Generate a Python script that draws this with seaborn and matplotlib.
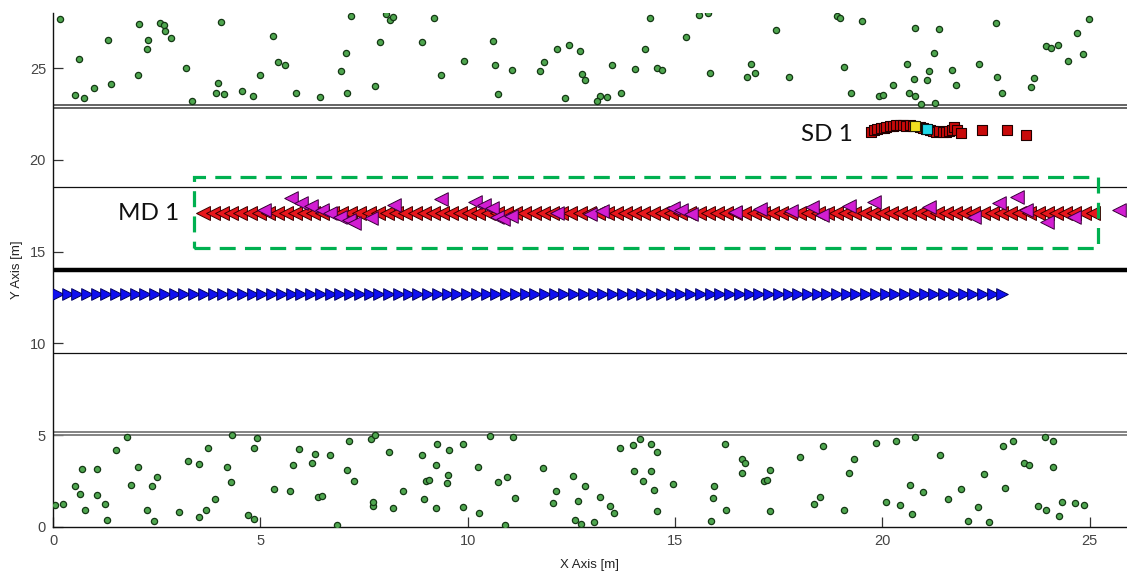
import matplotlib
matplotlib.use("Agg")
import matplotlib.pyplot as plt
from matplotlib.patches import Rectangle
import seaborn as sns

sns.set_theme(style="white")
plt.rcParams["font.family"] = ["Liberation Sans", "DejaVu Sans"]

# ---- roadside objects (trees / posts) above the road ----
top_x = [0.17, 0.63, 0.53, 0.75, 0.99, 1.32, 1.40, 2.08, 2.05, 2.30, 2.26, 2.59, 2.67, 2.70,
         2.84, 3.20, 3.36, 4.05, 3.98, 3.92, 4.12, 4.56, 4.83, 5.00, 5.30, 5.42, 5.59, 5.87,
         6.45, 6.94, 7.06, 7.10, 7.19, 7.76, 7.88, 8.03, 8.12, 8.20,
         9.19, 8.91, 9.35, 9.92, 10.61, 10.66, 10.73, 11.08, 11.74, 11.84, 12.16, 12.45,
         12.72, 12.35, 12.77, 12.82, 13.19, 13.13, 13.36, 13.70, 13.49, 14.03, 14.27, 14.40,
         14.57, 14.69, 15.27, 15.59, 15.79, 15.84, 16.75, 16.83, 16.93,
         17.44, 17.74, 18.91, 18.99, 19.07, 19.24, 19.51, 19.93, 20.02, 20.27, 20.59, 20.64,
         20.76, 20.79, 20.80, 20.93, 21.08, 21.13, 21.25, 21.27, 21.37, 21.69, 21.77, 22.33,
         22.75, 22.77, 22.90, 23.59, 23.66, 23.95, 24.08, 24.25, 24.49, 24.70, 24.84, 24.99]
top_y = [27.65, 25.49, 23.55, 23.38, 23.93, 26.54, 24.11, 27.38, 24.60, 26.54, 26.03, 27.45,
         27.32, 27.03, 26.65, 24.98, 23.20, 27.49, 24.16, 23.64, 23.60, 23.77, 23.49, 24.60,
         26.76, 25.33, 25.15, 23.66, 23.44, 24.82, 25.82, 23.66, 27.81, 24.04, 26.43, 27.94,
         27.60, 27.76,
         27.70, 26.43, 24.60, 25.36, 26.49, 25.15, 23.60, 24.87, 24.82, 25.33, 26.03, 26.27,
         25.93, 23.38, 24.65, 24.33, 23.49, 23.20, 23.44, 23.66, 25.15, 24.93, 26.03, 27.70,
         24.98, 24.87, 26.71, 27.87, 27.98, 24.71, 24.49, 25.20, 24.71,
         27.09, 24.49, 27.81, 27.70, 25.04, 23.66, 27.54, 23.49, 23.55, 24.09, 25.20, 23.66,
         24.38, 23.49, 27.20, 23.04, 24.33, 24.82, 25.82, 23.09, 27.14, 24.87, 24.09, 25.20,
         27.43, 24.49, 23.66, 23.98, 24.44, 26.20, 26.09, 26.27, 25.38, 26.92, 25.76, 27.65]

# ---- roadside objects below the road ----
bot_x = [0.04, 0.25, 0.54, 0.66, 0.71, 0.78, 1.06, 1.06, 1.25, 1.30, 1.52, 1.79, 1.87, 2.05,
         2.26, 2.38, 2.43, 2.50, 3.04, 3.26, 3.53, 3.53, 3.68, 3.74, 3.90, 4.19, 4.29, 4.32,
         4.71, 4.84, 4.84, 4.92, 5.33, 5.72, 5.79, 5.94, 6.24, 6.31, 6.38, 6.48, 6.68, 6.85,
         7.10, 7.14, 7.26, 7.66, 7.71, 7.73, 7.76, 8.10, 8.20, 8.45,
         8.91, 9.26, 9.55, 9.88, 10.54, 11.10, 9.23, 10.24, 9.52, 8.99, 9.07, 9.50, 10.73,
         10.95, 11.81, 8.94, 9.23, 9.88, 10.27, 11.15, 10.90, 12.06, 12.14, 12.55, 12.84,
         12.67, 13.19, 13.43, 13.54, 12.58, 12.73, 13.06, 13.68, 14.00, 14.15, 14.42, 14.56,
         14.02, 14.42, 14.24, 14.49, 14.56, 14.96, 15.94, 15.92, 15.87, 16.24, 16.21, 16.63,
         16.70, 16.61, 17.15, 17.23,
         17.29, 17.29, 18.01, 18.35, 18.50, 18.57, 19.09, 19.21, 19.31, 19.85, 20.10, 20.34,
         20.42, 20.68, 20.71, 20.78, 20.98, 21.40, 21.59, 21.91, 22.07, 22.31, 22.45, 22.57,
         22.92, 22.95, 23.15, 23.43, 23.54, 23.75, 23.92, 23.96, 24.12, 24.12, 24.27, 24.34,
         24.66, 24.86]
bot_y = [1.20, 1.25, 2.25, 1.82, 3.14, 0.93, 3.14, 1.74, 1.25, 0.36, 4.19, 4.92, 2.27, 3.25,
         0.93, 2.25, 0.31, 2.71, 0.82, 3.59, 3.41, 0.53, 0.93, 4.30, 1.53, 3.25, 2.43, 5.03,
         0.64, 0.42, 4.30, 4.87, 2.09, 1.98, 3.36, 4.25, 3.49, 3.98, 1.63, 1.69, 3.92, 0.13,
         3.09, 4.70, 2.49, 4.81, 1.13, 1.36, 5.03, 4.08, 1.03, 1.98,
         3.92, 4.52, 4.19, 4.52, 4.97, 4.92, 3.36, 3.25, 2.81, 2.49, 2.58, 2.38, 2.43,
         2.71, 3.20, 1.54, 1.03, 1.09, 0.74, 1.60, 0.09, 1.33, 1.98, 2.76, 2.25,
         1.43, 1.65, 1.14, 0.74, 0.38, 0.16, 0.25, 4.30, 4.47, 4.81, 4.52, 4.08,
         3.03, 3.03, 2.49, 2.03, 0.87, 2.32, 2.25, 1.60, 0.31, 0.93, 4.52, 3.70,
         3.49, 2.92, 2.49, 2.54,
         3.09, 0.87, 3.81, 1.25, 1.65, 4.41, 0.93, 2.92, 3.70, 4.56, 1.38, 4.70,
         1.20, 2.27, 0.71, 4.92, 1.92, 3.92, 1.54, 2.09, 0.31, 1.09, 2.87, 0.25,
         4.41, 2.14, 4.70, 3.49, 3.38, 1.14, 4.92, 0.93, 4.70, 3.25, 0.60, 1.38,
         1.33, 1.20]

# ---- ego vehicle track (eastbound lane) ----
ego_y = 12.7
ego_x = [0.12, 0.35, 0.59, 0.82, 1.06, 1.29, 1.53, 1.76, 2.00, 2.23, 2.47, 2.70, 2.94, 3.17,
         3.41, 3.64, 3.88, 4.11, 4.35, 4.58, 4.82, 5.05, 5.29, 5.52, 5.76, 5.99, 6.23, 6.46,
         6.70, 6.93, 7.17, 7.40, 7.64, 7.87, 8.11, 8.34, 8.58, 8.81, 9.05, 9.28, 9.52, 9.75,
         9.99, 10.22, 10.46, 10.69, 10.93, 11.16, 11.40, 11.63, 11.87, 12.10, 12.33, 12.57,
         12.80, 13.04, 13.27, 13.51, 13.74, 13.98, 14.21, 14.45, 14.68, 14.92, 15.15, 15.39,
         15.62, 15.86, 16.09, 16.33, 16.56, 16.80, 17.03, 17.27, 17.50, 17.74, 17.97, 18.21,
         18.44, 18.68, 18.91, 19.15, 19.38, 19.62, 19.85, 20.09, 20.32, 20.56, 20.79, 21.03,
         21.26, 21.50, 21.73, 21.97, 22.20, 22.44, 22.67, 22.90]

# ---- moving detection MD 1: reference track (westbound lane) ----
md_y = 17.1
md_x = [3.63, 3.85, 4.07, 4.29, 4.51, 4.74, 4.96, 5.18, 5.40, 5.62, 5.84, 6.06, 6.28, 6.50,
        6.73, 6.95, 7.17, 7.39, 7.61, 7.83, 8.05, 8.27, 8.49, 8.72, 8.94, 9.16, 9.38, 9.60,
        9.82, 10.04, 10.26, 10.48, 10.71, 10.93, 11.15, 11.37, 11.59, 11.81, 12.03, 12.25,
        12.47, 12.70, 12.92, 13.14, 13.36, 13.58, 13.80, 14.02, 14.24, 14.46, 14.69, 14.91,
        15.13, 15.35, 15.57, 15.79, 16.01, 16.23, 16.45, 16.67, 16.90, 17.12, 17.34, 17.56,
        17.78, 18.00, 18.22, 18.44, 18.66, 18.89, 19.11, 19.33, 19.55, 19.77, 19.99, 20.21,
        20.43, 20.65, 20.88, 21.10, 21.32, 21.54, 21.76, 21.98, 22.20, 22.42, 22.64, 22.87,
        23.09, 23.31, 23.53, 23.75, 23.97, 24.19, 24.41, 24.63, 24.86, 25.08]

# ---- MD 1 raw detections ----
det_x = [5.09, 5.73, 5.97, 6.23, 6.49, 6.69, 6.93, 7.13, 7.26, 7.66, 8.22, 9.35, 10.19, 10.39,
         10.59, 10.71, 10.85, 11.05, 12.15, 12.95, 13.25, 14.95, 15.15, 15.40, 16.45, 17.05,
         17.80, 18.30, 18.55, 19.20, 19.80, 21.12, 22.21, 22.81, 23.26, 23.46, 23.98, 24.62,
         25.71]
det_y = [17.27, 17.90, 17.63, 17.48, 17.27, 17.08, 16.87, 16.72, 16.54, 16.81, 17.54, 17.85,
         17.72, 17.54, 17.36, 16.90, 16.75, 16.95, 17.10, 17.05, 17.20, 17.40, 17.25, 17.05,
         17.15, 17.30, 17.20, 17.45, 17.00, 17.50, 17.70, 17.45, 16.90, 17.63, 17.99, 17.27,
         16.63, 16.90, 17.27]

# ---- stationary detection SD 1 ----
sd_x = [19.72, 19.80, 19.88, 19.96, 20.04, 20.10, 20.18, 20.26, 20.34, 20.42, 20.50, 20.58,
        20.66, 20.74, 20.90, 20.98, 21.05, 21.15, 21.22, 21.30, 21.38, 21.46, 21.54, 21.62,
        21.68, 21.73, 21.80, 21.89, 22.40, 23.02, 23.47]
sd_y = [21.50, 21.62, 21.66, 21.71, 21.75, 21.80, 21.84, 21.86, 21.90, 21.88, 21.90, 21.86,
        21.88, 21.84, 21.80, 21.74, 21.70, 21.62, 21.58, 21.53, 21.55, 21.50, 21.53, 21.56,
        21.62, 21.78, 21.60, 21.44, 21.60, 21.62, 21.33]
sd_hi_x, sd_hi_y = [20.79], [21.84]
sd_cur_x, sd_cur_y = [21.09], [21.66]

# road markings
edge_top = [23.0, 22.8]
edge_bottom = [5.2, 5.0]
lane_lines = [18.5, 9.5]
center_line = 14.0

# highlight box around MD 1
box_x0, box_x1 = 3.39, 25.2
box_y0, box_y1 = 15.2, 19.06

W, H = 1127, 571
fig = plt.figure(figsize=(W / 100, H / 100), dpi=100)
ax = fig.add_axes([53 / W, 44 / H, (W - 53) / W, 514 / H])

for yv in edge_top:
    ax.axhline(yv, color="#3a3a3a", lw=1.1, zorder=1)
for yv in edge_bottom:
    ax.axhline(yv, color="#7a7a7a", lw=1.3, zorder=1)
for yv in lane_lines:
    ax.axhline(yv, color="#111111", lw=0.9, zorder=1)
ax.axhline(center_line, color="black", lw=3.2, zorder=1)

tree_kw = dict(s=20, color="#4fa64f", edgecolor="#143814", linewidth=0.9, zorder=3,
               legend=False)
sns.scatterplot(x=top_x, y=top_y, ax=ax, **tree_kw)
sns.scatterplot(x=bot_x, y=bot_y, ax=ax, **tree_kw)

sns.scatterplot(x=ego_x, y=[ego_y] * len(ego_x), ax=ax, marker=">", s=70,
                color="#1010f0", edgecolor="#000060", linewidth=0.7, zorder=4, legend=False)
sns.scatterplot(x=md_x, y=[md_y] * len(md_x), ax=ax, marker="<", s=100,
                color="#e8161c", edgecolor="#3a0000", linewidth=0.7, zorder=4, legend=False)
sns.scatterplot(x=det_x, y=det_y, ax=ax, marker="<", s=95,
                color="#d21ed2", edgecolor="#3a003a", linewidth=0.7, zorder=5, legend=False)

sns.scatterplot(x=sd_x, y=sd_y, ax=ax, marker="s", s=42, color="#c80a0a",
                edgecolor="#200000", linewidth=0.8, zorder=5, legend=False)
sns.scatterplot(x=sd_hi_x, y=sd_hi_y, ax=ax, marker="s", s=42, color="#f2e020",
                edgecolor="#202000", linewidth=0.8, zorder=6, legend=False)
sns.scatterplot(x=sd_cur_x, y=sd_cur_y, ax=ax, marker="s", s=42, color="#20d8e8",
                edgecolor="#002020", linewidth=0.8, zorder=6, legend=False)

ax.add_patch(Rectangle((box_x0, box_y0), box_x1 - box_x0, box_y1 - box_y0, fill=False,
                       edgecolor="#00b050", lw=2.3, linestyle=(0, (5.0, 2.9)), zorder=6))

ax.text(18.03, 21.40, "SD 1", fontsize=17.5, family=["Lato", "DejaVu Sans"],
        va="center", ha="left", color="#111111", zorder=7)
ax.text(1.56, 17.05, "MD 1", fontsize=17.5, family=["Lato", "DejaVu Sans"],
        va="center", ha="left", color="#111111", zorder=7)

ax.set_xlim(0, (W - 53) / 41.46)
ax.set_ylim(0, 514 / 18.36)
ax.set_xticks([0, 5, 10, 15, 20, 25])
ax.set_yticks([0, 5, 10, 15, 20, 25])
ax.tick_params(direction="in", length=7, width=0.9, colors="#333333", labelsize=10.5,
               pad=5, left=True, bottom=True)
ax.tick_params(axis="x", labelcolor="#444444")
ax.tick_params(axis="y", labelcolor="#444444")
for side in ("top", "right"):
    ax.spines[side].set_visible(False)
for side in ("left", "bottom"):
    ax.spines[side].set_color("#111111")
    ax.spines[side].set_linewidth(1.0)
ax.set_xlabel("X Axis [m]", fontsize=9.5, color="#222222", labelpad=8)
ax.set_ylabel("Y Axis [m]", fontsize=9.5, color="#222222", labelpad=5)

fig.savefig("out.png", dpi=100, facecolor="white")
